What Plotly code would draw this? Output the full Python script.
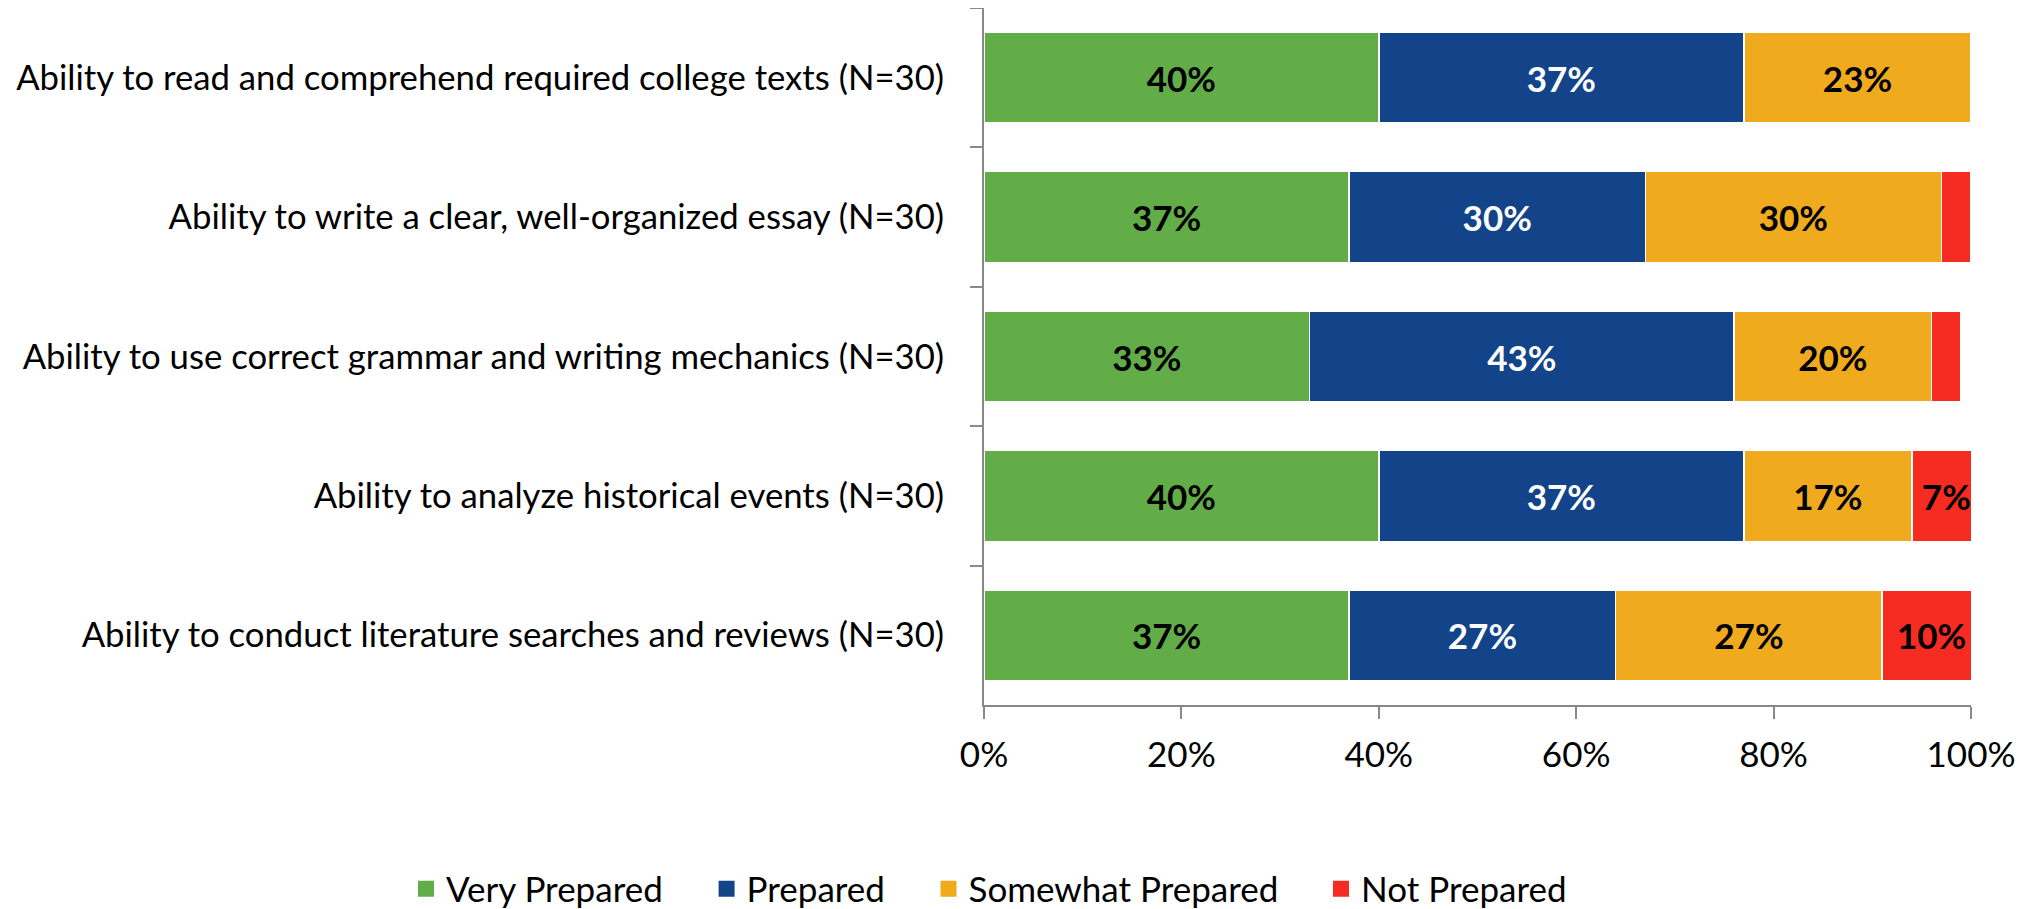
import plotly.graph_objects as go

categories = [
    "Ability to read and comprehend required college texts (N=30)",
    "Ability to write a clear, well-organized essay (N=30)",
    "Ability to use correct grammar and writing mechanics (N=30)",
    "Ability to analyze historical events (N=30)",
    "Ability to conduct literature searches and reviews (N=30)",
]
very_prepared = [40, 37, 33, 40, 37]
prepared = [37, 30, 43, 37, 27]
somewhat_prepared = [23, 30, 20, 17, 27]
not_prepared = [0, 3, 3, 7, 10]

series = [
    ("Very Prepared", very_prepared, "#62AD47", "black"),
    ("Prepared", prepared, "#134389", "white"),
    ("Somewhat Prepared", somewhat_prepared, "#F0AA1E", "black"),
    ("Not Prepared", not_prepared, "#F62B21", "black"),
]

FONT = "Lato"
FS = 35
W, H = 2022, 901          # page body has an 8px margin
legend_centers = [428, 728.6, 950.5, 1343]   # page px of legend squares
legend_names = ["legend", "legend2", "legend3", "legend4"]

fig = go.Figure()
for name, vals, color, tcolor in series:
    labels = [f"{v}%" if v >= 5 else "" for v in vals]
    fig.add_trace(go.Bar(
        name=name, y=categories, x=vals, orientation="h",
        marker=dict(color=color, line=dict(color="white", width=1.5)),
        text=labels, textposition="inside", insidetextanchor="middle",
        textangle=0,
        textfont=dict(family=FONT, size=FS, color=tcolor, weight="bold"),
        hoverinfo="skip", showlegend=False,
    ))

# legend entries with larger square swatches
for (name, vals, color, tcolor), lg in zip(series, legend_names):
    fig.add_trace(go.Scatter(
        name=name, x=[None], y=[None], mode="markers",
        marker=dict(symbol="square", size=19, color=color),
        legend=lg, showlegend=True, hoverinfo="skip",
    ))

legend_common = dict(
    orientation="h", xref="container", yref="container",
    xanchor="left", y=1 - (889 - 8) / H, yanchor="middle",
    font=dict(family=FONT, size=FS), bgcolor="rgba(0,0,0,0)",
)
legends = {}
for lg, cx in zip(legend_names, legend_centers):
    legends[lg] = dict(legend_common, x=(cx - 8 - 22) / W)

fig.update_layout(
    barmode="stack",
    bargap=0.347,
    width=W, height=H,
    margin=dict(l=976, r=59, t=0, b=204),
    plot_bgcolor="white", paper_bgcolor="white",
    font=dict(family=FONT, color="black"),
    uniformtext=dict(minsize=10, mode="show"),
    showlegend=True,
    xaxis=dict(
        range=[0, 100], tickvals=[0, 20, 40, 60, 80, 100],
        ticktext=["0%", "20%", "40%", "60%", "80%", "100%"],
        showgrid=False, zeroline=False,
        showline=True, linecolor="#898989", linewidth=2,
        ticks="outside", ticklen=12, tickcolor="#898989", tickwidth=2,
        tickfont=dict(family=FONT, size=FS),
        ticklabelstandoff=6,
    ),
    yaxis=dict(
        categoryorder="array", categoryarray=categories, autorange="reversed",
        showgrid=False, zeroline=False,
        showline=True, linecolor="#898989", linewidth=2,
        ticks="outside", ticklen=12, tickcolor="#898989", tickwidth=2,
        tickson="boundaries",
        tickfont=dict(family=FONT, size=34.7),
        ticklabelstandoff=31,
    ),
    **legends,
)

fig.write_html("out.html")
